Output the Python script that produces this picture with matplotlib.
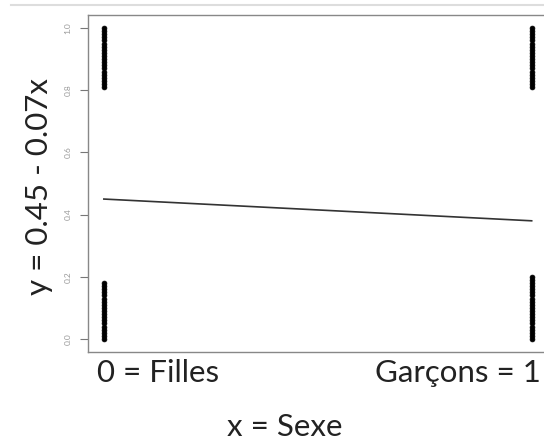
import matplotlib.pyplot as plt
import matplotlib.transforms as mtransforms
from matplotlib.lines import Line2D

# y values of the observed points (students) for each sex
filles_haut = [0.81, 0.82, 0.83, 0.84, 0.85, 0.86, 0.87, 0.88, 0.89, 0.90,
               0.91, 0.92, 0.93, 0.94, 0.95, 0.96, 0.97, 0.98, 0.99, 1.00]
filles_bas = [0.00, 0.01, 0.02, 0.03, 0.04, 0.05, 0.06, 0.07, 0.08, 0.09,
              0.10, 0.11, 0.12, 0.13, 0.14, 0.15, 0.16, 0.17, 0.18]
garcons_haut = [0.81, 0.82, 0.83, 0.84, 0.85, 0.86, 0.87, 0.88, 0.89, 0.90,
                0.91, 0.92, 0.93, 0.94, 0.95, 0.96, 0.97, 0.98, 0.99, 1.00]
garcons_bas = [0.00, 0.01, 0.02, 0.03, 0.04, 0.05, 0.06, 0.07, 0.08, 0.09,
               0.10, 0.11, 0.12, 0.13, 0.14, 0.15, 0.16, 0.17, 0.18, 0.19, 0.20]

sexe = [0, 1]
droite = [0.45, 0.38]   # y = 0.45 - 0.07x
yticks = [0.0, 0.2, 0.4, 0.6, 0.8, 1.0]
xlabels = ["0 = Filles", "Garçons = 1"]

plt.rcParams['font.family'] = ['Lato', 'DejaVu Sans']

fig = plt.figure(figsize=(5.44, 4.41), dpi=100)
ax = fig.add_axes([0.1618, 0.2018, 0.847, 0.7642])

for x, ys in [(0, filles_haut + filles_bas), (1, garcons_haut + garcons_bas)]:
    ax.plot([x] * len(ys), ys, 'o', color='black', markersize=3.5,
            markerfacecolor='black', markeredgewidth=0.5, clip_on=False)

ax.plot(sexe, droite, color='#333333', linewidth=1.2)

ax.set_xlim(-0.037, 1.04)
ax.set_ylim(-0.042, 1.042)

ax.set_yticks(yticks)
ax.set_yticklabels([f"{v:.1f}" for v in yticks], rotation=90, va='center',
                   fontsize=6, color='#999999')
ax.tick_params(axis='y', length=6, width=0.8, color='#777777', pad=6)

ax.set_xticks(sexe)
ax.set_xticklabels(xlabels, fontsize=22.5, color='#222222')
ax.tick_params(axis='x', length=0, pad=5)
lab0, lab1 = ax.get_xticklabels()
lab0.set_ha('left')
lab1.set_ha('right')
lab0.set_transform(lab0.get_transform() +
                   mtransforms.ScaledTranslation(-7 / 100, 0, fig.dpi_scale_trans))
lab1.set_transform(lab1.get_transform() +
                   mtransforms.ScaledTranslation(9 / 100, 0, fig.dpi_scale_trans))

ax.set_ylabel("y = 0.45 - 0.07x", fontsize=22.5, color='#222222')
ax.set_xlabel("x = Sexe", fontsize=22.5, color='#222222')
ax.yaxis.set_label_coords(-0.076, 0.49)
ax.xaxis.set_label_coords(0.427, -0.18)

for s in ax.spines.values():
    s.set_color('#888888')
    s.set_linewidth(1.0)

# thin frame line at the very top of the picture
fig.add_artist(Line2D([0.02, 1.0], [0.988, 0.988], color='#dddddd', linewidth=1.5))

fig.savefig('out.png', dpi=100)
